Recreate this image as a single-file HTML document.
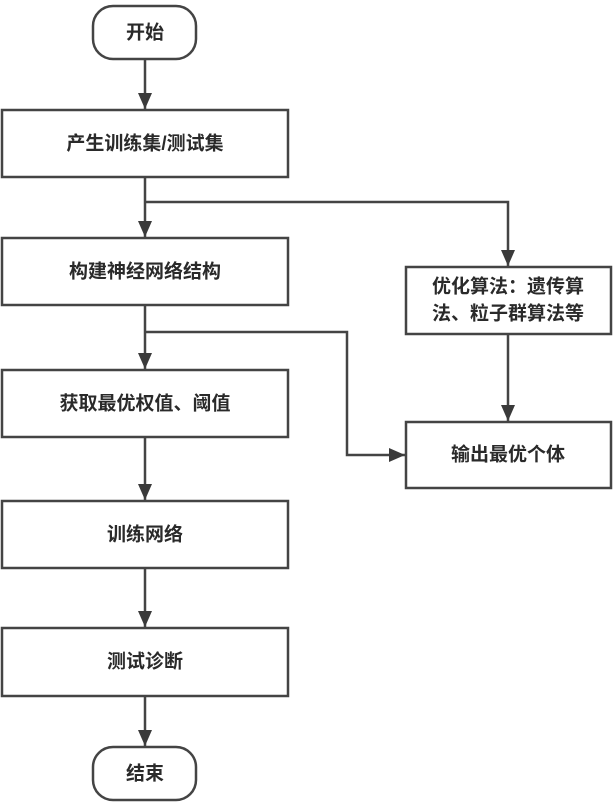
<!DOCTYPE html>
<html><head><meta charset="utf-8"><style>
html,body{margin:0;padding:0;background:#fff;}
svg text{font-family:"Liberation Sans","Noto Sans CJK SC",sans-serif;font-weight:bold;font-size:19px;fill:#2a2a2a;text-anchor:middle;dominant-baseline:central;}
</style></head><body>
<svg width="615" height="807" viewBox="0 0 615 807" xmlns="http://www.w3.org/2000/svg">
<defs>
<marker id="b" markerWidth="14" markerHeight="16" refX="16" refY="7" orient="auto" markerUnits="userSpaceOnUse"><path d="M0,0 L16,7 L0,14 z" fill="#3a3a3a"/></marker></defs>
<g fill="#fff" stroke="#444" stroke-width="2.5">
<rect x="93" y="6" width="103" height="53" rx="20"/>
<rect x="2" y="110" width="286" height="67"/>
<rect x="2" y="238" width="286" height="67"/>
<rect x="2" y="370" width="286" height="67"/>
<rect x="2" y="501" width="286" height="67"/>
<rect x="2" y="628" width="286" height="68"/>
<rect x="93" y="747" width="103" height="53" rx="20"/>
<rect x="406" y="267" width="205" height="67"/>
<rect x="406" y="422" width="205" height="66"/>
</g>
<g fill="none" stroke="#444" stroke-width="2.5" marker-end="url(#b)">
<line x1="145" y1="59" x2="145" y2="109"/>
<line x1="145" y1="177" x2="145" y2="237"/>
<polyline points="145,202 508,202 508,266"/>
<line x1="145" y1="305" x2="145" y2="369"/>
<polyline points="145,332 347,332 347,455 405,455"/>
<line x1="508" y1="334" x2="508" y2="421"/>
<line x1="145" y1="437" x2="145" y2="500"/>
<line x1="145" y1="568" x2="145" y2="627"/>
<line x1="145" y1="696" x2="145" y2="746"/>
</g>
<text x="145" y="33">开始</text>
<text x="145" y="144">产生训练集/测试集</text>
<text x="145" y="272">构建神经网络结构</text>
<text x="145" y="404">获取最优权值、阈值</text>
<text x="145" y="535">训练网络</text>
<text x="145" y="662">测试诊断</text>
<text x="145" y="774">结束</text>
<text x="508" y="287">优化算法：遗传算</text>
<text x="508" y="314">法、粒子群算法等</text>
<text x="508" y="455">输出最优个体</text>
</svg>
</body></html>
